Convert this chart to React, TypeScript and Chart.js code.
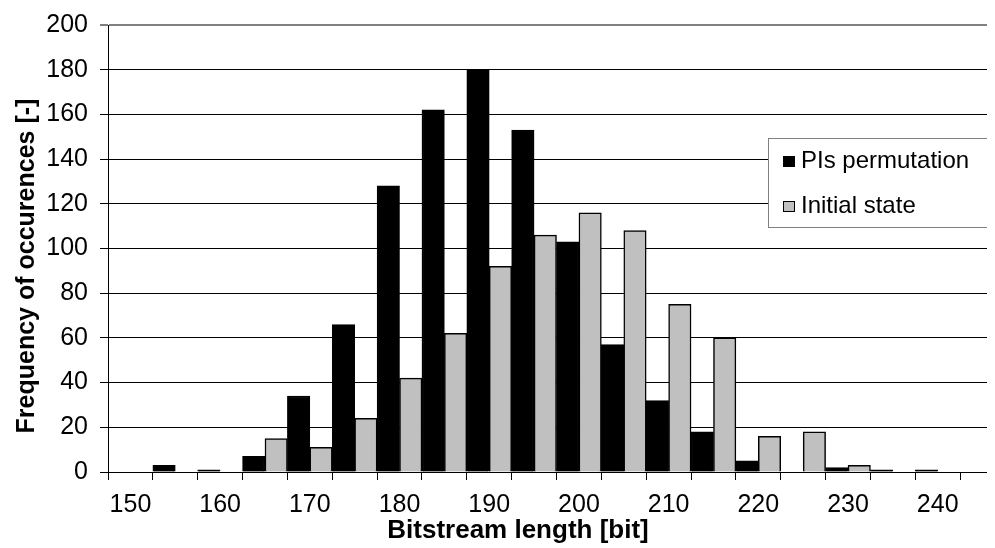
import React, { useEffect, useRef } from "react";
import { Chart, registerables } from "chart.js";

Chart.register(...registerables);

// Bin start values of the bitstream length [bit]
const binStarts = [150, 155, 160, 165, 170, 175, 180, 185, 190, 195, 200, 205, 210, 215, 220, 225, 230, 235, 240, 245];
// Frequency of occurrences per bin
const plsPermutation = [0, 3, 1, 7, 34, 66, 128, 162, 180, 153, 103, 57, 32, 18, 5, 0, 2, 1, 1, 0];
const initialState = [0, 0, 0, 15, 11, 24, 42, 62, 92, 106, 116, 108, 75, 60, 16, 18, 3, 0, 0, 0];
const seriesNames = ["PIs permutation", "Initial state"];
const seriesColors = ["#000000", "#c0c0c0"];
const yMin = 0;
const yMax = 200;
const yStep = 20;
const xTitle = "Bitstream length [bit]";
const yTitle = "Frequency of occurences [-]";

const FONT = "'Liberation Sans', Arial, sans-serif";

const titlesPlugin = {
  id: "axisTitlesCustom",
  afterDraw(chart: any) {
    const ctx = chart.ctx;
    ctx.save();
    ctx.font = `bold 26px ${FONT}`;
    ctx.fillStyle = "#000";
    ctx.textAlign = "center";
    ctx.textBaseline = "alphabetic";
    // x-axis title
    ctx.fillText(xTitle, 510, 530);
    // y-axis title
    ctx.translate(19, 258);
    ctx.rotate(-Math.PI / 2);
    ctx.textBaseline = "middle";
    ctx.font = `bold 25px ${FONT}`;
    ctx.fillText(yTitle, 0, 0);
    ctx.restore();
  },
};

const legendPlugin = {
  id: "legendBoxCustom",
  afterDraw(chart: any) {
    const ctx = chart.ctx;
    const x = 760.5;
    const y = 130.5;
    const w = 220;
    const h = 89;
    ctx.save();
    ctx.fillStyle = "#ffffff";
    ctx.fillRect(x, y, w, h);
    ctx.strokeStyle = "#808080";
    ctx.lineWidth = 1;
    ctx.strokeRect(x, y, w, h);
    ctx.font = `24px ${FONT}`;
    ctx.textBaseline = "alphabetic";
    ctx.textAlign = "left";
    chart.data.datasets.forEach((ds: any, i: number) => {
      const baseline = 160 + i * 45;
      ctx.fillStyle = ds.backgroundColor;
      ctx.fillRect(775, baseline - 12, 12, 11);
      ctx.strokeStyle = "#000";
      ctx.lineWidth = 1;
      ctx.strokeRect(775.5, baseline - 11.5, 11, 10);
      ctx.fillStyle = "#000";
      ctx.fillText(ds.label, 793, baseline);
    });
    ctx.restore();
  },
};

export default function App() {
  const canvasRef = useRef<HTMLCanvasElement | null>(null);

  useEffect(() => {
    if (!canvasRef.current) return;
    const chart = new Chart(canvasRef.current, {
      type: "bar",
      data: {
        labels: binStarts.map(String),
        datasets: [
          {
            label: seriesNames[0],
            data: plsPermutation,
            backgroundColor: seriesColors[0],
            borderColor: "#000",
            borderWidth: 1.5,
            categoryPercentage: 1,
            barPercentage: 1,
          },
          {
            label: seriesNames[1],
            data: initialState,
            backgroundColor: seriesColors[1],
            borderColor: "#000",
            borderWidth: 1.5,
            categoryPercentage: 1,
            barPercentage: 1,
          },
        ],
      },
      options: {
        animation: false,
        responsive: false,
        maintainAspectRatio: false,
        layout: { padding: { top: 17, left: 0, right: 0, bottom: 0 } },
        plugins: {
          legend: { display: false },
          tooltip: { enabled: false },
        },
        scales: {
          x: {
            type: "category",
            offset: true,
            grid: {
              offset: true,
              drawOnChartArea: false,
              drawTicks: true,
              tickLength: 8,
              color: "#000",
            },
            border: { display: true, color: "#000", width: 1 },
            ticks: {
              autoSkip: false,
              maxRotation: 0,
              minRotation: 0,
              padding: 10,
              color: "#000",
              font: { family: FONT, size: 25 },
              callback: (_v: any, i: number) => (binStarts[i] % 10 === 0 ? String(binStarts[i]) : ""),
            },
            afterFit: (scale: any) => {
              scale.height = 76;
              scale.paddingLeft = 0;
              scale.paddingRight = 0;
            },
          },
          y: {
            min: yMin,
            max: yMax,
            ticks: {
              stepSize: yStep,
              padding: 12,
              color: "#000",
              font: { family: FONT, size: 25 },
            },
            grid: {
              color: (c: any) => (c.tick && c.tick.value === yMax ? "#808080" : "#000"),
              lineWidth: (c: any) => (c.tick && c.tick.value === yMax ? 2 : 1),
              tickColor: "#000",
              tickWidth: 1,
              tickLength: 8,
            },
            border: { display: true, color: "#000", width: 1 },
            afterFit: (scale: any) => {
              scale.width = 100;
              scale.paddingTop = 0;
              scale.paddingBottom = 0;
            },
          },
        },
      },
      plugins: [titlesPlugin, legendPlugin],
    });
    return () => chart.destroy();
  }, []);

  return (
    <div style={{ width: 987, height: 540, overflow: "hidden" }}>
      <canvas ref={canvasRef} width={997} height={540} style={{ display: "block" }} />
    </div>
  );
}
